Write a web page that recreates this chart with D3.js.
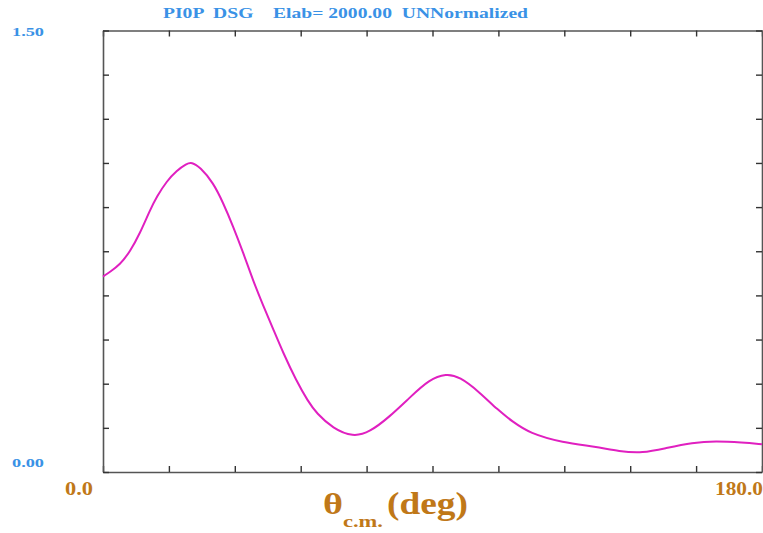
<!DOCTYPE html>
<html>
<head>
<meta charset="utf-8">
<script src="https://cdn.jsdelivr.net/npm/d3@7"></script>
<style>
  html, body { margin: 0; padding: 0; background: #fff; }
  svg { display: block; }
  text { font-family: "Liberation Serif", "DejaVu Serif", serif; font-weight: bold; }
</style>
</head>
<body>
<svg id="chart" width="763" height="533"></svg>
<script>
// Differential cross section vs. c.m. angle (degrees)
const theta = [0, 1.9, 4.6, 7.4, 10.1, 12.8, 14.7, 17.4, 20.1, 22.8, 24.2, 26.5, 30.1, 32.8,
  35.5, 38.3, 41.0, 43.7, 46.5, 49.2, 52.8, 56.0, 58.3, 62.8, 68.3, 72.8, 78.3, 83.7, 89.2,
  93.7, 97.4, 102.8, 107.8, 111.9, 116.5, 125.5, 134.6, 141.0, 147.4, 153.7, 161.0, 167.4,
  174.6, 180];
const dsg = [0.664, 0.680, 0.704, 0.749, 0.811, 0.889, 0.936, 0.988, 1.024, 1.047, 1.053, 1.036,
  0.983, 0.915, 0.836, 0.745, 0.650, 0.567, 0.485, 0.405, 0.310, 0.240, 0.200, 0.148, 0.119,
  0.135, 0.188, 0.252, 0.315, 0.334, 0.324, 0.272, 0.211, 0.171, 0.132, 0.100, 0.086, 0.070,
  0.064, 0.081, 0.100, 0.105, 0.100, 0.094];

const xTicks = d3.range(0, 180.001, 18);
const yTicks = d3.range(0, 1.5001, 0.15);
const xDomain = [0, 180];
const yDomain = [0, 1.5];

const svg = d3.select("#chart");
const plot = { left: 103, right: 762, top: 30.5, bottom: 472 };

const x = d3.scaleLinear().domain(xDomain).range([plot.left, plot.right]);
const y = d3.scaleLinear().domain(yDomain).range([plot.bottom, plot.top]);

const frameColor = "#555";
const tickLen = 6;
const blue = "#3a92e6";
const brown = "#c07818";

// Inward ticks on all four sides of the frame
const axes = [
  { ax: d3.axisBottom(x).tickValues(xTicks), t: `translate(0,${plot.bottom})` },
  { ax: d3.axisTop(x).tickValues(xTicks), t: `translate(0,${plot.top})` },
  { ax: d3.axisLeft(y).tickValues(yTicks), t: `translate(${plot.left},0)` },
  { ax: d3.axisRight(y).tickValues(yTicks), t: `translate(${plot.right},0)` }
];
axes.forEach(a => {
  const g = svg.append("g").attr("transform", a.t)
    .call(a.ax.tickSizeInner(-tickLen).tickSizeOuter(0).tickFormat(""));
  g.select(".domain").attr("stroke", frameColor).attr("stroke-width", 1.6);
  g.selectAll(".tick line").attr("stroke", "#333").attr("stroke-width", 1.4);
});

// Cross-section curve (B-spline through the sampled values)
const line = d3.line()
  .x((d, i) => x(theta[i]))
  .y(d => y(d))
  .curve(d3.curveBasis);

svg.append("path")
  .datum(dsg)
  .attr("d", line)
  .attr("fill", "none")
  .attr("stroke", "#e020c0")
  .attr("stroke-width", 2);

// Title
svg.append("text")
  .attr("x", 163).attr("y", 18)
  .attr("fill", blue)
  .attr("font-size", 15)
  .attr("textLength", 365)
  .attr("lengthAdjust", "spacingAndGlyphs")
  .style("white-space", "pre")
  .text("PI0P  DSG    Elab= 2000.00  UNNormalized");

// Y-range labels
svg.append("text").attr("x", 12).attr("y", 36)
  .attr("fill", blue).attr("font-size", 13)
  .attr("textLength", 32).attr("lengthAdjust", "spacingAndGlyphs")
  .text(yDomain[1].toFixed(2));
svg.append("text").attr("x", 12).attr("y", 467)
  .attr("fill", blue).attr("font-size", 13)
  .attr("textLength", 32).attr("lengthAdjust", "spacingAndGlyphs")
  .text(yDomain[0].toFixed(2));

// X-range labels
svg.append("text").attr("x", 65).attr("y", 495)
  .attr("fill", brown).attr("font-size", 18)
  .attr("textLength", 28).attr("lengthAdjust", "spacingAndGlyphs")
  .text(xDomain[0].toFixed(1));
svg.append("text").attr("x", 715).attr("y", 495)
  .attr("fill", brown).attr("font-size", 18)
  .attr("textLength", 48).attr("lengthAdjust", "spacingAndGlyphs")
  .text(xDomain[1].toFixed(1));

// X-axis title: θ with c.m. subscript, then (deg)
svg.append("text").attr("x", 323).attr("y", 514)
  .attr("fill", brown).attr("font-size", 30)
  .attr("textLength", 20).attr("lengthAdjust", "spacingAndGlyphs")
  .text("θ");
svg.append("text").attr("x", 343).attr("y", 527)
  .attr("fill", brown).attr("font-size", 16)
  .attr("textLength", 40).attr("lengthAdjust", "spacingAndGlyphs")
  .text("c.m.");
svg.append("text").attr("x", 387).attr("y", 514)
  .attr("fill", brown).attr("font-size", 31)
  .attr("textLength", 81).attr("lengthAdjust", "spacingAndGlyphs")
  .text("(deg)");
</script>
</body>
</html>
